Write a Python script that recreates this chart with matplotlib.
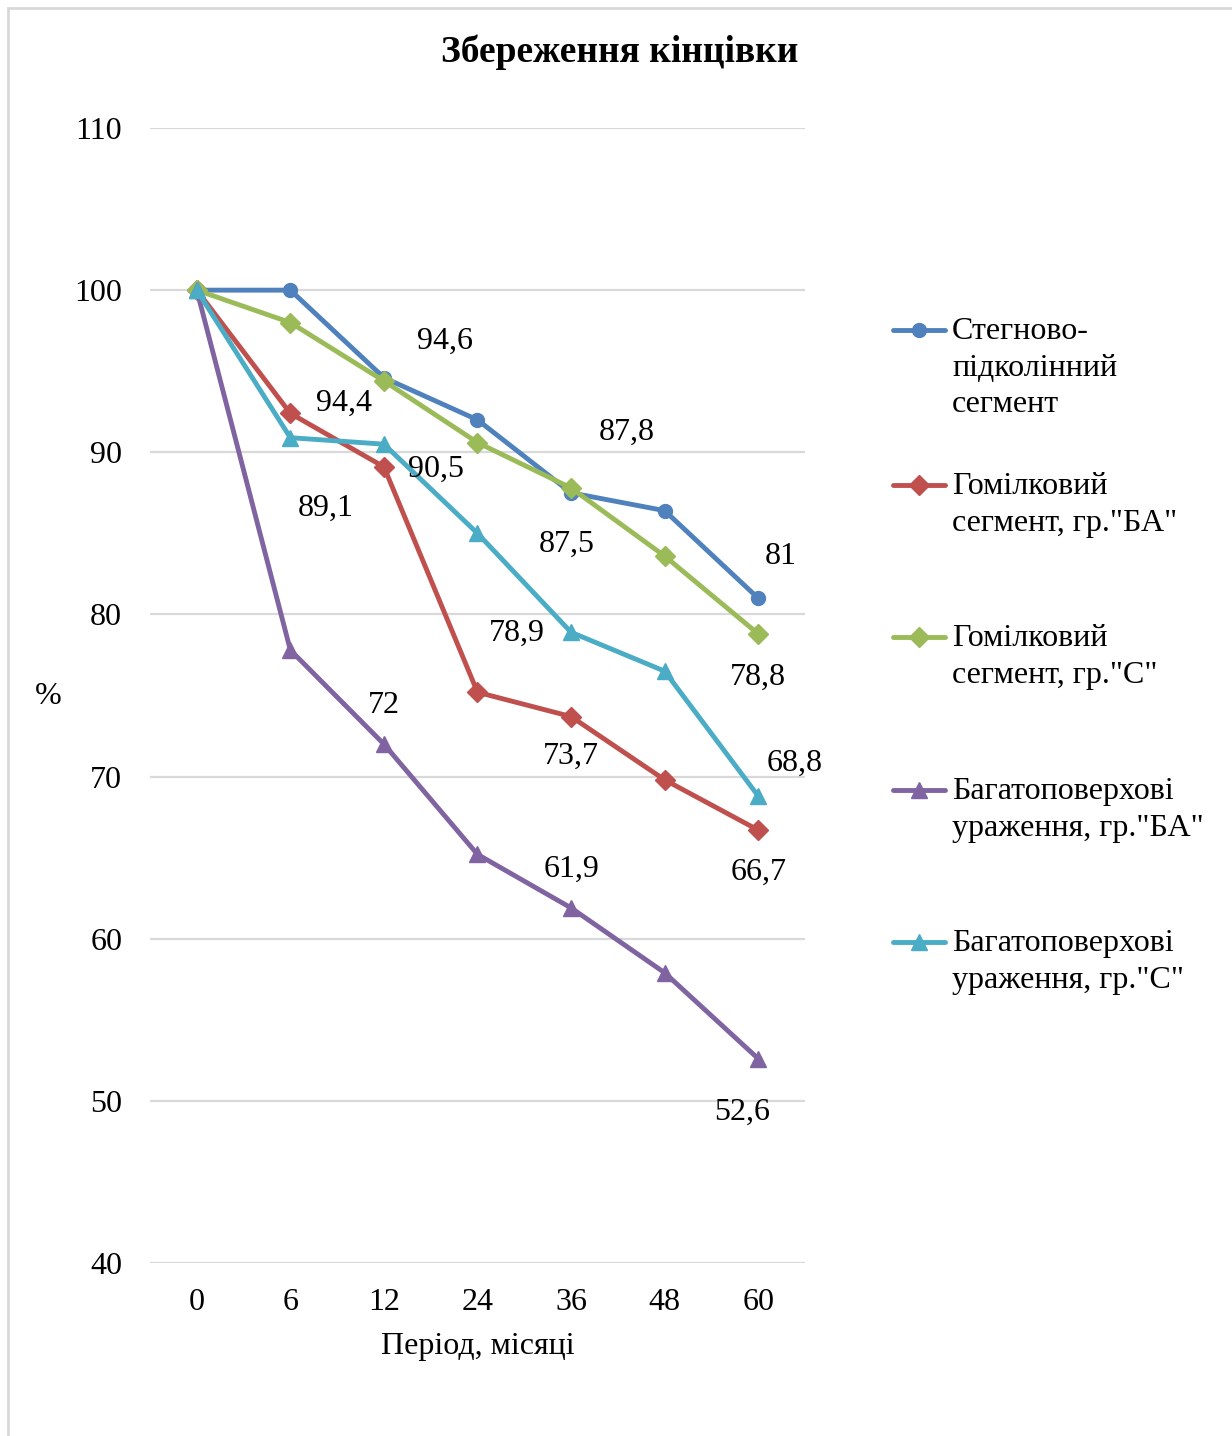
import matplotlib
matplotlib.use("Agg")
import matplotlib.pyplot as plt
from matplotlib.lines import Line2D
from matplotlib.patches import Rectangle

plt.rcParams['font.family'] = ['Liberation Serif', 'DejaVu Serif']

# ---- data ----
periods = ["0", "6", "12", "24", "36", "48", "60"]
series_names = [
    "Стегново-\nпідколінний\nсегмент",
    "Гомілковий\nсегмент, гр.\"БА\"",
    "Гомілковий\nсегмент, гр.\"С\"",
    "Багатоповерхові\nураження, гр.\"БА\"",
    "Багатоповерхові\nураження, гр.\"С\"",
]
femoral_popliteal = [100, 100, 94.6, 92.0, 87.5, 86.4, 81]
tibial_ba = [100, 92.4, 89.1, 75.2, 73.7, 69.8, 66.7]
tibial_c = [100, 98.0, 94.4, 90.6, 87.8, 83.6, 78.8]
multilevel_ba = [100, 77.8, 72, 65.2, 61.9, 57.9, 52.6]
multilevel_c = [100, 90.9, 90.5, 85.0, 78.9, 76.5, 68.8]
all_series = [femoral_popliteal, tibial_ba, tibial_c, multilevel_ba, multilevel_c]

colors = ["#4F81BD", "#C0504D", "#9BBB59", "#8064A2", "#4BACC6"]
markers = ["o", "D", "D", "^", "^"]
msizes = [10, 10, 10, 12, 12]

# labelled points: (series index, point index, offset in pixels)
labelled = [
    (0, 2, (61, 36)), (2, 2, (-40, -22)), (1, 2, (-58, -41)), (4, 2, (52, -25)),
    (2, 4, (56, 56)), (0, 4, (-4, -52)), (4, 4, (-54, -1)),
    (0, 6, (22, 42)), (2, 6, (0, -43)), (4, 6, (36, 33)),
    (3, 2, (0, 39)), (1, 4, (0, -40)), (3, 4, (0, 39)),
    (1, 6, (0, -42)), (3, 6, (-16, -54)),
]

FS = 23
LW = 3.5
W, H = 1232, 1436
fig = plt.figure(figsize=(W / 100, H / 100), dpi=100)

# outer frame of the chart area
fig.patches.append(Rectangle((8 / W, -0.05), 1.2, 1 - 8 / H + 0.05,
                             transform=fig.transFigure, fill=False,
                             edgecolor="#d9d9d9", linewidth=2))

ax = fig.add_axes([150 / W, 1 - 1263 / H, (805 - 150) / W, (1263 - 128) / H])
x = list(range(len(periods)))

for vals, c, m, ms in zip(all_series, colors, markers, msizes):
    ax.plot(x, vals, color=c, linewidth=LW, marker=m, markersize=ms,
            markeredgecolor=c, solid_capstyle="round", zorder=3)

for si, pi, (dx, dy) in labelled:
    v = all_series[si][pi]
    ax.annotate(f"{v:g}".replace(".", ","), (x[pi], v), xytext=(dx, dy),
                textcoords="offset pixels", ha="center", va="center",
                fontsize=FS, color="black", zorder=4)

ax.set_xlim(-0.5, len(periods) - 0.5)
ax.set_ylim(40, 110)
ax.set_yticks(range(40, 111, 10))
ax.set_xticks(x)
ax.set_xticklabels(periods)
ax.tick_params(axis="both", length=0, labelsize=FS)
ax.tick_params(axis="x", pad=18)
ax.tick_params(axis="y", pad=20)
ax.grid(axis="y", color="#d9d9d9", linewidth=1.6, zorder=0)
ax.set_axisbelow(True)
for s in ax.spines.values():
    s.set_visible(False)

ax.set_xlabel("Період, місяці", fontsize=FS, labelpad=11)
fig.text(48 / W, 1 - 697 / H, "%", fontsize=FS, ha="center", va="center")

fig.text(620 / W, 1 - 52 / H, "Збереження кінцівки", fontsize=27,
         fontweight="bold", ha="center", va="center")

# legend entries, handle aligned with the first text line
legend_rows = [330, 485, 637, 790, 942]
for name, c, m, ms, yr in zip(series_names, colors, markers, msizes, legend_rows):
    yline = 1 - yr / H
    fig.add_artist(Line2D([893 / W, 945 / W], [yline, yline],
                          transform=fig.transFigure, color=c, linewidth=LW,
                          solid_capstyle="round"))
    fig.add_artist(Line2D([919 / W], [yline], transform=fig.transFigure,
                          color=c, marker=m, markersize=ms, linestyle="none"))
    fig.text(952 / W, 1 - (yr - 13) / H, name, fontsize=FS, ha="left", va="top",
             linespacing=1.35)

fig.savefig("out.png", dpi=100, facecolor="white")
